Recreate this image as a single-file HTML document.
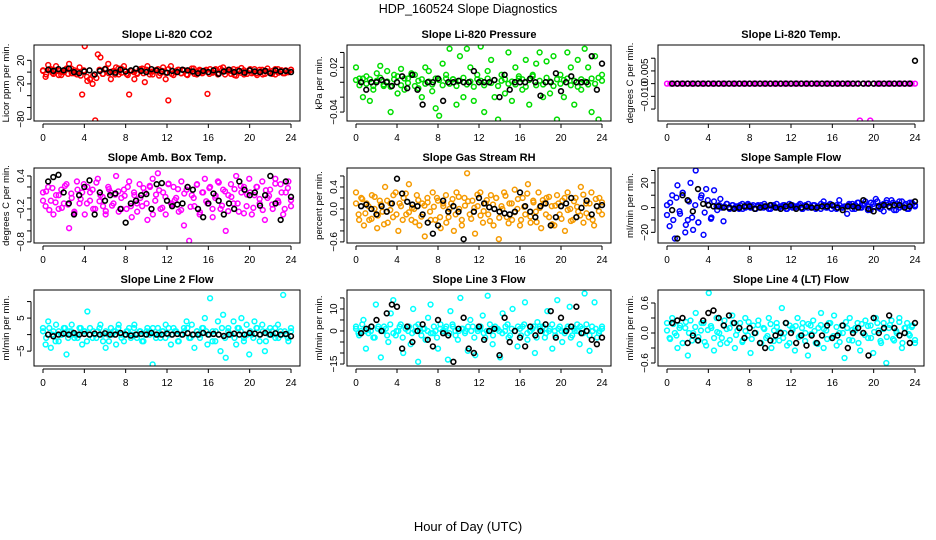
<!DOCTYPE html>
<html><head><meta charset="utf-8"><style>
body{margin:0;background:#fff;}
svg{display:block;font-family:"Liberation Sans",Arial,sans-serif;}
</style></head><body>
<svg id="chart" width="936" height="540" viewBox="0 0 936 540" xmlns="http://www.w3.org/2000/svg">
<text x="468" y="13" text-anchor="middle" font-size="12.5">HDP_160524  Slope Diagnostics</text>
<text x="468" y="531" text-anchor="middle" font-size="13">Hour of Day (UTC)</text>
</svg>
<script>
const xTicks = [0,4,8,12,16,20,24];
const titles = ["Slope Li-820 CO2","Slope Li-820 Pressure","Slope Li-820 Temp.","Slope Amb. Box Temp.","Slope Gas Stream RH","Slope Sample Flow","Slope Line 2 Flow","Slope Line 3 Flow","Slope Line 4 (LT) Flow"];
const yTitles = ["Licor ppm per min.","kPa per min.","degrees C per min.","degrees C per min.","percent per min.","ml/min per min.","ml/min per min.","ml/min per min.","ml/min per min."];
const colors = ["#ff0000","#00dd00","#ff00ff","#ff00ff","#f59a00","#0000ff","#00ffff","#00ffff","#00ffff"];
const yDomains = [[-83,46],[-0.052,0.05],[-0.0147,0.0152],[-0.82,0.545],[-0.62,0.745],[-28.6,32],[-9.5,13.5],[-15.9,18.6],[-0.66,0.86]];
const yTickVals = [[20,0,-20,-40,-60,-80],[0.04,0.02,0,-0.02,-0.04],[0.01,0.005,0,-0.005,-0.01],[0.4,0.2,0,-0.2,-0.4,-0.6,-0.8],[0.6,0.4,0.2,0,-0.2,-0.4,-0.6],[30,20,10,0,-10,-20],[10,5,0,-5],[15,10,5,0,-5,-10,-15],[0.6,0.3,0,-0.3,-0.6]];
const yTickLabels = [["20","","−20","","","−80"],["","0.02","","","−0.04"],["","0.005","","−0.010",""],["0.4","","","−0.2","","","−0.8"],["","0.4","","0.0","","","−0.6"],["","20","","0","","−20"],["","5","","−5"],["","10","","0","","","−15"],["0.6","","0.0","","−0.6"]];
const colorY0 = [3,-8,12,5,-3,10,2,-5,0,6,14,-2,3,-4,8,-38,44,-15,-12,-20,-82,30,25,-3,6,14,-12,2,8,-4,6,10,-3,-38,2,-12,-2,4,6,-17,10,1,-4,3,5,-2,8,-12,-48,10,-5,2,4,-2,3,-4,2,6,-3,1,4,-2,2,-37,5,-1,3,-4,6,8,2,4,-3,5,-6,2,7,-4,1,3,-2,5,-5,0,4,-3,6,-1,2,-4,5,1,-2,3,0,4];
const bandY0 = [2,-4,5,-1,3,-5,0,4,-3,6,-2,1,-6,3,-8,-12,-6,-10,4,-3,5,-2,1,-4,6,-1,3,-5,2,0,-3,5,-2,4,-4,1,3,-6,2,-1,5,-3,0,4,-2,3,-5,1,6,-4,2,-1,4,-3,0,5,-2,3,-4,1,2,-5,4,-1,3,-3,5,0,-2,4,-4,2,1,-3,5,-1,3,-2,0,4];
const blackY0 = [4,2,5,3,6,0,-2,1,3,-4,2,5,0,-1,4,1,3,6,2,0,5,3,1,-1,2,0,4,3,1,-2,2,0,3,-3,1,4,0,2,-1,3,1,0,2,-2,3,1,2,0];
const colorY1 = [0.02,0.005,-0.02,0.008,-0.025,-0.01,0.012,0.022,-0.005,0.015,-0.04,0.01,-0.015,0.018,-0.01,0.005,0.012,0.01,-0.008,-0.02,0.02,0.015,-0.012,-0.035,-0.045,0.025,0.01,0.045,0.004,-0.03,0.035,-0.02,0.045,0.02,-0.025,0.01,0.048,-0.04,0.015,0.03,-0.02,-0.05,0.01,-0.015,0.04,-0.025,0.02,0.008,-0.01,0.03,-0.03,0.01,0.025,0.04,-0.02,0.028,-0.015,0.035,-0.05,0.01,-0.02,0.04,0.02,-0.03,0.03,-0.01,0.045,0.02,-0.04,0.035,-0.05,0.01];
const bandY1 = [0.003,-0.004,0.005,-0.002,0.004,-0.005,0.002,0.006,-0.003,0.001,-0.006,0.004,0.008,-0.004,0.005,-0.001,0.01,-0.005,0.002,0.004,-0.002,0.001,-0.003,0.005,0.003,-0.004,0.005,-0.002,0.004,-0.005,0.002,0.006,-0.003,0.001,-0.006,0.004,0.002,-0.004,0.005,-0.001,0.003,-0.005,0.002,0.004,-0.002,0.001,-0.003,0.005,0.004,-0.006,0.003,0.008,-0.004,0.002,-0.003,0.006,0.001,-0.005,0.004,-0.002,0.003,0.005,-0.004,0.002,-0.006,0.004,0.001,-0.003,0.005,-0.002,0.006,0.002];
const blackY1 = [0,-0.01,0,0,0.003,0,-0.005,0,0.008,-0.008,0.01,-0.01,-0.03,0,0,0.005,-0.025,0,0,0.002,0,0,0.015,0,0,0,0.003,-0.02,0.01,-0.01,0,0,0,0.005,0,-0.018,0,0,0.012,-0.012,0,0.008,0,0,0,0.035,-0.01,0.025];
const colorY2 = [0,0,0,0,0,0,0,0,0,0,0,0,0,0,0,0,0,0,0,0,0,0,0,0,0,0,0,0,0,0,0,0,0,0,0,0,0,0,0,0,0,0,0,0,0,0,0,0,0,0,0,0,0,0,0,0,-0.0145,0,0,-0.0145,0,0,0,0,0,0,0,0,0,0,0,0,0];
const bandY2 = [];
const blackY2 = [0,0,0,0,0,0,0,0,0,0,0,0,0,0,0,0,0,0,0,0,0,0,0,0,0,0,0,0,0,0,0,0,0,0,0,0,0,0,0,0,0,0,0,0,0,0,0,0.009];
const colorY3 = [0.1,-0.15,0.2,-0.05,-0.3,0.05,-0.2,0.15,-0.1,0.25,-0.55,0.0,-0.25,0.3,-0.1,0.1,-0.3,0.2,-0.05,0.15,-0.2,0.35,0.05,-0.15,-0.3,0.2,0.1,-0.1,0.4,-0.25,0.0,0.15,-0.2,0.3,-0.35,0.05,-0.1,0.25,-0.15,0.1,-0.4,0.2,0.35,-0.05,0.45,-0.2,0.1,-0.3,0.25,-0.1,0.2,0.0,-0.25,0.3,-0.5,0.15,-0.78,0.05,-0.15,0.25,-0.3,0.1,0.35,-0.1,0.2,-0.35,0.0,0.3,-0.2,0.15,-0.6,0.05,0.25,-0.1,0.4,-0.25,0.1,0.2,-0.15,0.35,-0.3,0.05,0.2,-0.1,0.3,-0.4,0.0,0.15,-0.2,0.35,-0.05,0.25,-0.3,0.1,0.3,-0.15];
const bandY3 = [-0.05,0.12,-0.22,0.18,-0.08,0.05,-0.18,0.22,-0.12,0.08,-0.28,0.15,-0.02,0.25,-0.1,0.1,-0.2,0.28,-0.06,0.02,-0.24,0.16,-0.14,0.06,0.12,-0.2,0.04,0.2,-0.15,0.1,-0.25,0.0,0.18,-0.1,0.22,-0.3,0.06,0.14,-0.18,0.02,0.26,-0.12,-0.04,0.16,-0.22,0.08,0.2,-0.16,0.0,0.24,-0.26,0.1,-0.06,0.18,-0.2,0.04,0.28,-0.14,0.12,-0.24,0.02,0.16,-0.1,0.22,-0.28,0.06,0.1,-0.18,0.2,-0.02,-0.22,0.14,0.04,-0.12,0.26,-0.08,0.1,-0.2,0.18,-0.04];
const blackY3 = [0.3,0.38,0.42,0.1,-0.1,-0.3,0.05,0.2,0.32,-0.3,0.1,-0.05,0.05,0.08,-0.2,-0.45,-0.1,-0.05,0.05,0.07,-0.2,0.25,0.27,-0.05,-0.15,-0.12,-0.1,0.2,0.15,-0.2,-0.35,-0.1,0.08,-0.05,-0.3,-0.1,-0.2,0.3,0.15,0.05,0.1,-0.14,0.05,0.4,-0.1,-0.4,0.3,0.02];
const colorY4 = [0.3,-0.1,0.2,-0.3,0.1,-0.2,0.25,0.0,-0.35,0.15,-0.05,0.4,-0.25,0.1,-0.15,0.3,-0.4,0.05,0.2,-0.1,0.45,-0.2,0.0,0.25,-0.3,0.1,-0.5,0.2,-0.05,0.3,-0.2,0.15,-0.35,0.05,0.25,-0.15,0.1,-0.4,0.3,0.0,-0.2,0.2,0.65,-0.1,0.15,-0.45,0.05,0.3,-0.25,0.1,-0.1,0.25,-0.3,0.2,-0.55,0.05,0.3,-0.15,0.1,-0.2,0.35,0.0,-0.3,0.2,-0.1,0.45,-0.25,0.15,-0.05,0.3,-0.35,0.1,0.2,-0.15,0.05,-0.3,0.25,-0.1,0.15,-0.4,0.3,0.0,-0.2,0.2,-0.05,0.4,-0.25,0.1,-0.15,0.3,-0.3,0.05,0.2,-0.1];
const bandY4 = [0.1,-0.2,0.18,-0.08,0.05,-0.18,0.22,-0.12,0.08,-0.28,0.15,-0.02,0.25,-0.1,0.1,-0.2,0.28,-0.06,0.02,-0.24,0.16,-0.14,0.06,0.12,-0.2,0.04,0.2,-0.15,0.1,-0.25,0.0,0.18,-0.1,0.22,-0.3,0.06,0.14,-0.18,0.02,0.26,-0.12,-0.04,0.16,-0.22,0.08,0.2,-0.16,0.0,0.24,-0.26,0.1,-0.06,0.18,-0.2,0.04,0.28,-0.14,0.12,-0.24,0.02,0.16,-0.1,0.22,-0.28,0.06,0.1,-0.18,0.2,-0.02,-0.22,0.14,0.04,-0.12,0.26,-0.08,0.1,-0.2,0.18,-0.04,0.12];
const blackY4 = [0.05,0.08,0.0,-0.1,0.05,-0.05,0.1,0.55,0.28,0.13,0.08,0.05,-0.1,-0.25,-0.45,-0.3,0.15,-0.05,0.05,-0.05,-0.55,-0.68,-0.05,0.2,0.1,0.03,0.0,-0.05,-0.08,-0.1,-0.05,0.3,0.05,-0.05,-0.15,0.05,0.1,-0.3,-0.15,0.05,0.1,0.2,-0.15,0.02,0.15,-0.1,0.05,0.07];
const colorY5 = [2,-15,10,-25,18,-5,12,-20,-10,20,-18,30,-12,8,-22,15,2,-8,5,1,2,0,1,3,-1,2,0,1,2,-1,1,3,0,2,-1,1,2,0,1,-1,2,1,3,0,1,2,-1,1,2,0,1,3,-1,2,0,1,2,-1,1,3,5,0,2,-1,1,2,6,0,1,-5,2,3,-1,4,0,2,5,1,-2,3,7,0,2,-3,4,1,6,-2,3,0,5,2,-1,4,3,1];
const bandY5 = [-6,4,-10,8,-3,12,-14,5,-8,2,-12,10,-4,6,-9,14,-2,7,-11,3,0,2,1,-1,3,0,2,1,-1,2,0,3,1,-1,2,0,1,2,-1,3,0,1,2,-1,1,3,0,2,1,-1,2,0,3,1,-1,2,0,1,3,-1,2,4,0,3,-2,4,1,5,-1,3,6,0,4,-2,5,1,3,-1,4,2];
const blackY5 = [-2,-25,10,6,-3,15,3,2,1,1,0,0,-1,0,1,1,-1,0,1,2,0,-1,1,2,-1,0,1,0,0,1,1,2,0,-2,1,1,0,6,-1,-3,1,2,1,2,2,0,1,5];
const colorY6 = [2,-3,4,-4,1,3,-2,0,2,-6,1,3,-1,0,2,-3,1,7,2,-1,0,1,3,-2,-4,0,2,1,-3,3,0,-2,1,2,0,3,-1,1,-2,0,2,1,-9,0,2,-1,1,3,0,-3,2,1,-2,0,2,4,-1,3,-4,1,0,2,5,-3,11,1,-2,4,-5,6,-7,2,0,4,-3,2,5,-1,3,-6,0,4,2,-2,3,-5,1,2,0,-1,3,1,12,0,-2,1];
const bandY6 = [1,-1,2,0,-2,1,0,2,-1,1,0,-1,2,1,-2,0,1,-1,2,0,1,-2,0,1,2,-1,0,1,-1,2,0,1,-2,1,0,2,-1,0,1,-1,2,0,1,-2,0,1,2,-1,0,1,-1,2,1,0,-2,1,0,2,-1,1,0,-1,2,1,-2,0,1,-1,2,0,1,-2,0,1,2,-1,0,1,-1,2];
const blackY6 = [0,-0.5,0,0.3,0,0.5,0,0.2,0,0.3,0,0.4,0,0,0.5,0,-0.3,0,0.2,0,0.5,0,0,0.3,0,0.2,0,0.4,0,0,0.5,0,0.2,0,-0.4,0,0.3,0,0,0.5,0.3,0,0.5,0,0.4,0,0.2,-0.5];
const colorY7 = [2,-1,0,5,-8,1,0,-3,12,2,-12,0,1,-5,8,14,-2,0,3,-10,1,0,-6,10,2,-14,0,1,-4,6,12,-1,0,-8,3,0,1,-13,9,2,0,-4,15,1,0,-9,5,2,-11,0,1,7,-3,16,0,-6,2,1,-12,8,0,3,-2,10,0,-7,1,2,13,-4,0,1,-10,4,2,0,-3,9,1,-8,0,14,2,-5,0,1,11,-2,0,3,-6,1,17,0,-9,2,13,-3,0,1];
const bandY7 = [1,-2,3,0,-1,2,-3,1,0,2,-2,3,-1,0,2,-3,1,2,-1,0,3,-2,1,0,-1,2,-3,1,0,2,-1,3,-2,0,1,-1,2,0,-3,1,2,-1,0,3,-2,1,0,-1,2,-3,1,0,2,-2,3,-1,0,2,-3,1,2,-1,0,3,-2,1,0,-1,2,-3,1,0,2,-1,3,-2,0,1,-1,2];
const blackY7 = [-1,1,2,5,0,8,12,11,-8,2,-5,0,3,-4,-7,5,-1,-2,-14,1,6,-8,-10,2,-4,0,1,-11,6,-5,0,-3,-7,2,-2,0,3,9,-3,6,0,2,11,-1,0,-4,-6,-3];
const colorY8 = [0.2,-0.1,0.3,0.0,-0.3,0.15,-0.2,0.1,-0.45,0.25,0.0,0.4,-0.15,0.05,0.2,-0.25,0.8,0.1,-0.35,0.3,0.0,-0.1,0.25,-0.2,0.1,0.35,-0.3,0.05,0.2,-0.15,0.3,-0.05,-0.4,0.15,0.0,0.25,-0.2,0.1,-0.1,0.3,-0.3,0.05,0.2,-0.15,0.5,0.0,-0.25,0.15,0.1,-0.35,0.3,-0.05,0.2,0.0,-0.45,0.15,0.25,-0.2,0.1,0.4,-0.3,0.05,0.2,-0.1,0.35,-0.25,0.0,0.15,-0.5,0.1,0.3,-0.15,0.05,0.2,-0.35,0.0,0.25,-0.1,0.15,-0.4,0.3,0.05,-0.2,0.2,-0.6,0.1,0.25,-0.15,0.0,0.3,-0.3,0.1,0.2,-0.05,0.15,-0.2];
const bandY8 = [0.05,-0.12,0.18,-0.05,0.1,-0.2,0.22,0.0,-0.15,0.12,-0.08,0.2,-0.18,0.06,0.14,-0.1,0.02,-0.22,0.16,0.08,-0.14,0.2,-0.04,0.1,-0.18,0.04,0.22,-0.12,0.0,0.16,-0.2,0.08,-0.06,0.18,-0.16,0.12,0.02,-0.1,0.2,-0.2,0.06,0.14,-0.08,0.1,-0.16,0.18,-0.02,0.04,-0.22,0.16,0.08,-0.12,0.2,-0.06,0.12,-0.18,0.0,0.22,-0.14,0.06,0.1,-0.2,0.18,-0.04,0.14,-0.1,0.02,0.2,-0.16,0.08,-0.08,0.16,-0.12,0.04,0.22,-0.2,0.1,-0.02,0.12,-0.14];
const blackY8 = [0.2,0.25,0.3,-0.2,-0.05,-0.15,0.25,0.4,0.45,0.3,0.15,0.35,0.2,0.1,-0.1,0.1,0.0,-0.2,-0.3,-0.15,-0.05,0.0,0.2,0.0,-0.2,-0.05,-0.25,-0.05,-0.2,-0.05,0.15,-0.1,-0.05,0.15,-0.3,0.0,0.1,0.0,-0.45,0.3,0.0,0.1,0.35,0.1,-0.05,0.0,-0.2,0.2];
const colorSeries = [colorY0,colorY1,colorY2,colorY3,colorY4,colorY5,colorY6,colorY7,colorY8];
const bandSeries = [bandY0,bandY1,bandY2,bandY3,bandY4,bandY5,bandY6,bandY7,bandY8];
const blackSeries = [blackY0,blackY1,blackY2,blackY3,blackY4,blackY5,blackY6,blackY7,blackY8];

const NS = "http://www.w3.org/2000/svg";
const svg = document.getElementById("chart");
const colBox = [[34,300],[347,611],[658,924]];
const rowBox = [[45,121],[168,243],[290,366]];
function mk(tag, attrs, parent){const e=document.createElementNS(NS,tag);for(const k in attrs)e.setAttribute(k,attrs[k]);(parent||svg).appendChild(e);return e;}

for(let p=0;p<9;p++){
  const [L,R]=colBox[p%3], [T,B]=rowBox[Math.floor(p/3)];
  const g=mk("g",{});
  
  
  const xs=h=>(L+9)+h/24*((R-9)-(L+9));
  const [y0,y1]=yDomains[p];
  const ys=v=>B-(v-y0)/(y1-y0)*(B-T);
  const t=mk("text",{x:(L+R)/2,y:T-7,"text-anchor":"middle","font-size":"11","font-weight":"bold"},g);
  t.textContent=titles[p];
  
  
  const clip=mk("clipPath",{id:"c"+p},g);
  mk("rect",{x:L,y:T,width:R-L,height:B-T},clip);
  const marks=mk("g",{"clip-path":"url(#c"+p+")"},g);
  const bd=bandSeries[p];
  bd.forEach((v,i)=>{
    const c=mk("circle",{cx:xs(i*24/(bd.length-1)),cy:ys(v),r:2.4,fill:"none",stroke:colors[p],"stroke-width":1.5},marks);
    
    
  });
  const cs=colorSeries[p];
  cs.forEach((v,i)=>{
    const c=mk("circle",{cx:xs(i*24/(cs.length-1)),cy:ys(v),r:2.4,fill:"none",stroke:colors[p],"stroke-width":1.5},marks);
    
    
  });
  const bs=blackSeries[p];
  bs.forEach((v,i)=>{
    const c=mk("circle",{cx:xs((i+1)*0.5),cy:ys(v),r:2.4,fill:"none",stroke:"#000","stroke-width":1.6},marks);
    
    
  });
  const box=mk("rect",{x:L,y:T,width:R-L,height:B-T,fill:"none",stroke:"#000","stroke-width":1},g);
  
  
  mk("line",{x1:xs(0),x2:xs(24),y1:B+3,y2:B+3,stroke:"#000"},g);
  xTicks.forEach(h=>{
    mk("line",{x1:xs(h),x2:xs(h),y1:B+3,y2:B+7,stroke:"#000"},g);
    const tx=mk("text",{x:xs(h),y:B+20,"text-anchor":"middle","font-size":"10"},g);
    tx.textContent=h;
    
    
  });
  const tv=yTickVals[p].filter(v=>v>=y0&&v<=y1);
  mk("line",{x1:L-3,x2:L-3,y1:ys(Math.max(...tv)),y2:ys(Math.min(...tv)),stroke:"#000"},g);
  yTickVals[p].forEach((v,i)=>{
    if(v<y0||v>y1)return;
    mk("line",{x1:L-7,x2:L-3,y1:ys(v),y2:ys(v),stroke:"#000"},g);
    const lab=yTickLabels[p][i];
    if(lab){
      const ty=mk("text",{x:L-10,y:ys(v),"text-anchor":"middle","font-size":"10",transform:"rotate(-90 "+(L-10)+" "+ys(v)+")"},g);
      ty.textContent=lab;
      
      
    }
  });
  const yt=mk("text",{x:L-25,y:(T+B)/2,"text-anchor":"middle","font-size":"9.5",transform:"rotate(-90 "+(L-25)+" "+(T+B)/2+")"},g);
  yt.textContent=yTitles[p];
  
  
}
</script>
</body></html>
